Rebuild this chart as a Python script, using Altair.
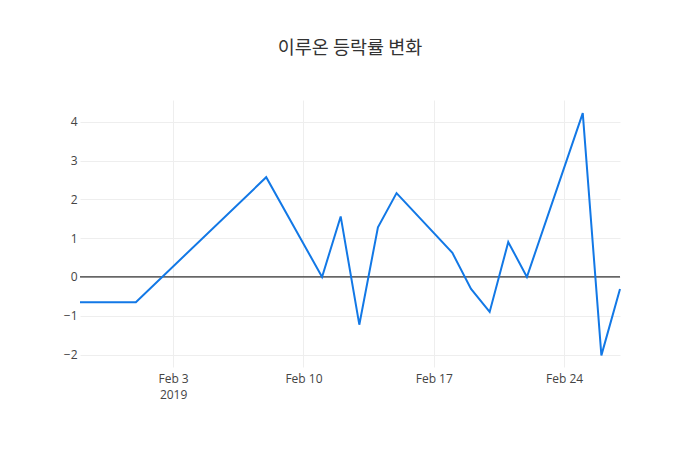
import altair as alt
import pandas as pd

dates = ['2019-01-29', '2019-02-01', '2019-02-08', '2019-02-11', '2019-02-12',
         '2019-02-13', '2019-02-14', '2019-02-15', '2019-02-18', '2019-02-19',
         '2019-02-20', '2019-02-21', '2019-02-22', '2019-02-25', '2019-02-26',
         '2019-02-27']
changes = [-0.65, -0.65, 2.57, 0.0, 1.56, -1.23, 1.28, 2.16, 0.62, -0.31,
           -0.90, 0.90, 0.0, 4.22, -2.02, -0.31]
y_ticks = [-2, -1, 0, 1, 2, 3, 4]
x_ticks = [3, 10, 17, 24]

df = pd.DataFrame({'date': dates, 'change': changes})
zero = pd.DataFrame({'y': [0]})

font = 'Open Sans'

x_enc = alt.X(
    'date:T',
    title=None,
    scale=alt.Scale(type='utc', domain=[alt.DateTime(year=2019, month=1, date=29, utc=True),
                                        alt.DateTime(year=2019, month=2, date=27, utc=True)],
                    nice=False),
    axis=alt.Axis(
        values=[alt.DateTime(year=2019, month=2, date=d, utc=True) for d in x_ticks],
        labelExpr="utcFormat(datum.value, '%b %-d') == 'Feb 3' ? ['Feb 3', '2019'] : utcFormat(datum.value, '%b %-d')",
        grid=True, gridColor='#eeeeee', domain=False, ticks=False,
        labelPadding=6, labelColor='#444444', labelFontSize=12, labelFont=font,
        labelLineHeight=16,
    ),
)

line = alt.Chart(df).mark_line(color='#1278e6', strokeWidth=2).encode(
    x=x_enc,
    y=alt.Y(
        'change:Q',
        title=None,
        scale=alt.Scale(domain=[-2.32, 4.56], nice=False, zero=False),
        axis=alt.Axis(
            values=y_ticks, grid=True, gridColor='#eeeeee', domain=False, ticks=False,
            labelExpr="replace(format(datum.value, 'd'), '-', '\u2212')",
            labelPadding=3, labelColor='#444444', labelFontSize=12, labelFont=font,
        ),
    ),
)

zero_line = alt.Chart(zero).mark_rule(color='#333333', strokeWidth=1.2).encode(y='y:Q')

chart = alt.layer(zero_line, line).properties(
    width=540,
    height=267,
    padding={'left': 72, 'top': 92, 'right': 72, 'bottom': 75},
    autosize=alt.AutoSizeParams(type='none'),
    title=alt.TitleParams('이루온 등락률 변화', font='Noto Sans CJK KR', fontSize=18.5,
                          fontWeight='normal', color='#333333', offset=43, anchor='middle'),
).configure_view(stroke=None)

chart.save("out.html", embed_options={"renderer": "svg", "actions": False})
